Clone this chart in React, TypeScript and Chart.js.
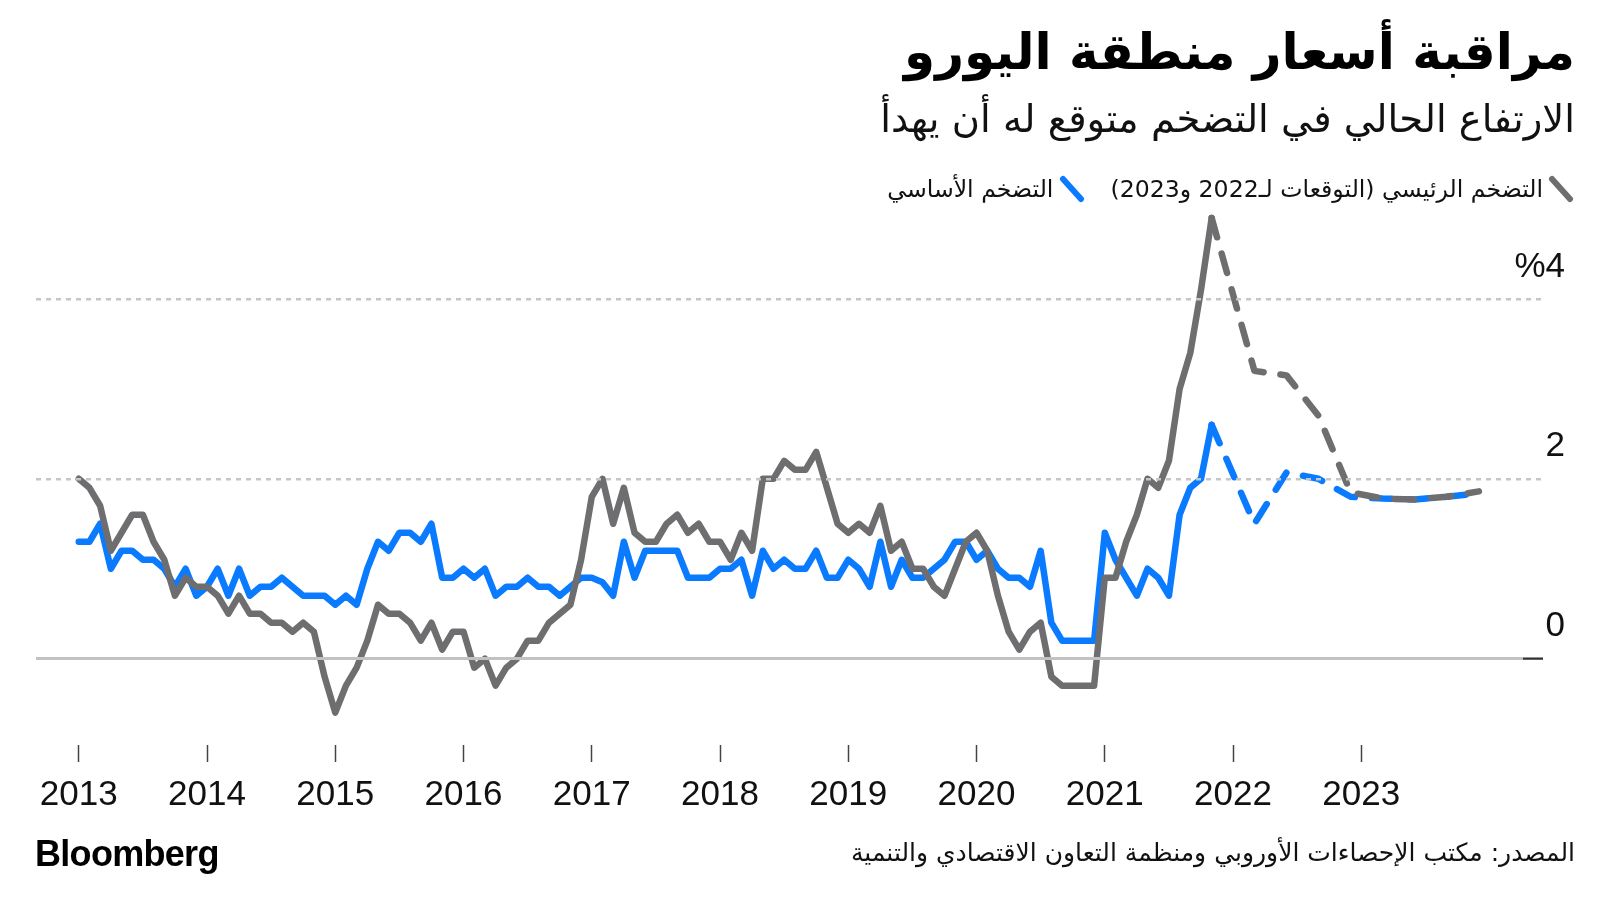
import React, { useEffect, useRef } from "react";
import { Chart, registerables } from "chart.js";

Chart.register(...registerables);

// ---- Data (monthly, index 0 = Jan 2013) ----
const yearLabels = ["2013", "2014", "2015", "2016", "2017", "2018", "2019", "2020", "2021", "2022", "2023"];
const yearTickMonths = [0, 12, 24, 36, 48, 60, 72, 84, 96, 108, 120];
const yTickValues = [0, 2, 4];
const yTickLabels = ["0", "2", "%4"];

// Headline inflation, Jan 2013 .. Nov 2021
const headlineActual = [
  2.0, 1.9, 1.7, 1.2, 1.4, 1.6, 1.6, 1.3, 1.1, 0.7, 0.9, 0.8,
  0.8, 0.7, 0.5, 0.7, 0.5, 0.5, 0.4, 0.4, 0.3, 0.4, 0.3, -0.2,
  -0.6, -0.3, -0.1, 0.2, 0.6, 0.5, 0.5, 0.4, 0.2, 0.4, 0.1, 0.3,
  0.3, -0.1, 0.0, -0.3, -0.1, 0.0, 0.2, 0.2, 0.4, 0.5, 0.6, 1.1,
  1.8, 2.0, 1.5, 1.9, 1.4, 1.3, 1.3, 1.5, 1.6, 1.4, 1.5, 1.3,
  1.3, 1.1, 1.4, 1.2, 2.0, 2.0, 2.2, 2.1, 2.1, 2.3, 1.9, 1.5,
  1.4, 1.5, 1.4, 1.7, 1.2, 1.3, 1.0, 1.0, 0.8, 0.7, 1.0, 1.3,
  1.4, 1.2, 0.7, 0.3, 0.1, 0.3, 0.4, -0.2, -0.3, -0.3, -0.3, -0.3,
  0.9, 0.9, 1.3, 1.6, 2.0, 1.9, 2.2, 3.0, 3.4, 4.1, 4.9,
];

// Core inflation, Jan 2013 .. Nov 2021
const coreActual = [
  1.3, 1.3, 1.5, 1.0, 1.2, 1.2, 1.1, 1.1, 1.0, 0.8, 1.0, 0.7,
  0.8, 1.0, 0.7, 1.0, 0.7, 0.8, 0.8, 0.9, 0.8, 0.7, 0.7, 0.7,
  0.6, 0.7, 0.6, 1.0, 1.3, 1.2, 1.4, 1.4, 1.3, 1.5, 0.9, 0.9,
  1.0, 0.9, 1.0, 0.7, 0.8, 0.8, 0.9, 0.8, 0.8, 0.7, 0.8, 0.9,
  0.9, 0.85, 0.7, 1.3, 0.9, 1.2, 1.2, 1.2, 1.2, 0.9, 0.9, 0.9,
  1.0, 1.0, 1.1, 0.7, 1.2, 1.0, 1.1, 1.0, 1.0, 1.2, 0.9, 0.9,
  1.1, 1.0, 0.8, 1.3, 0.8, 1.1, 0.9, 0.9, 1.0, 1.1, 1.3, 1.3,
  1.1, 1.2, 1.0, 0.9, 0.9, 0.8, 1.2, 0.4, 0.2, 0.2, 0.2, 0.2,
  1.4, 1.1, 0.9, 0.7, 1.0, 0.9, 0.7, 1.6, 1.9, 2.0, 2.6,
];

// Forecast points (month index) for 2022 and 2023
const forecastMonths = [106, 110, 113, 116, 119, 122, 125, 128, 131];
const headlineForecast = [4.9, 3.2, 3.15, 2.7, 1.85, 1.78, 1.77, 1.8, 1.86];
const coreForecast = [2.6, 1.5, 2.07, 2.0, 1.8, 1.78, 1.77, 1.8, 1.84];

const X_MIN = -4;
const X_MAX = 137;
const Y_MIN = -0.96;
const Y_MAX = 5;

const GRAY = "#6e6e70";
const BLUE = "#0a7aff";
const LINE_W = 6.5;

const toPoints = (vals: number[], months?: number[]) =>
  vals.map((v, i) => ({ x: months ? months[i] : i, y: v }));

const zeroTickPlugin = {
  id: "zeroTick",
  afterDraw(chart: any) {
    const { ctx, chartArea, scales } = chart;
    const y = scales.y.getPixelForValue(0);
    ctx.save();
    ctx.strokeStyle = "#333333";
    ctx.lineWidth = 2;
    ctx.beginPath();
    ctx.moveTo(chartArea.right - 20, y);
    ctx.lineTo(chartArea.right, y);
    ctx.stroke();
    ctx.restore();
  },
};

const ARABIC = '"DejaVu Sans", sans-serif';
const LATIN = '"Liberation Sans", Arial, sans-serif';

function Slash({ color }: { color: string }) {
  return (
    <svg width="28" height="28" viewBox="0 0 28 28" style={{ display: "block" }}>
      <line x1="5" y1="4" x2="23" y2="24" stroke={color} strokeWidth="6" strokeLinecap="round" />
    </svg>
  );
}

const lineStyle = (color: string, dashed: boolean) => ({
  borderColor: color,
  borderWidth: LINE_W,
  pointRadius: 0,
  borderDash: dashed ? [20, 17] : [],
  borderJoinStyle: "round",
  borderCapStyle: "round",
  tension: 0,
  clip: false,
});

export default function App() {
  const ref = useRef<HTMLCanvasElement>(null);

  useEffect(() => {
    if (!ref.current) return;
    const chart = new Chart(ref.current, {
      type: "line",
      data: {
        datasets: [
          { data: toPoints(headlineActual), ...lineStyle(GRAY, false) },
          { data: toPoints(headlineForecast, forecastMonths), ...lineStyle(GRAY, true) },
          { data: toPoints(coreActual), ...lineStyle(BLUE, false) },
          { data: toPoints(coreForecast, forecastMonths), ...lineStyle(BLUE, true) },
        ] as any,
      },
      options: {
        responsive: false,
        animation: false,
        devicePixelRatio: 1,
        layout: { padding: { left: 36, right: 35, top: 209, bottom: 85 } },
        plugins: { legend: { display: false }, tooltip: { enabled: false } },
        scales: {
          x: {
            type: "linear",
            min: X_MIN,
            max: X_MAX,
            afterBuildTicks: (scale: any) => {
              scale.ticks = yearTickMonths.map((v) => ({ value: v }));
            },
            afterFit: (scale: any) => {
              scale.height = 70;
            },
            ticks: {
              autoSkip: false,
              maxRotation: 0,
              padding: 12,
              color: "#111",
              font: { family: LATIN, size: 35 },
              callback: (v: any) => {
                const i = yearTickMonths.indexOf(Number(v));
                return i >= 0 ? yearLabels[i] : "";
              },
            },
            grid: {
              drawOnChartArea: false,
              drawTicks: true,
              tickLength: 17,
              tickColor: "#444",
              tickWidth: 1.5,
            },
            border: { display: false },
          },
          y: {
            type: "linear",
            position: "right",
            min: Y_MIN,
            max: Y_MAX,
            afterBuildTicks: (scale: any) => {
              scale.ticks = yTickValues.map((v) => ({ value: v }));
            },
            afterFit: (scale: any) => {
              scale.width = 22;
            },
            ticks: {
              mirror: true,
              crossAlign: "near",
              padding: 22,
              labelOffset: -32,
              color: "#111",
              font: { family: LATIN, size: 35 },
              callback: (v: any) => {
                const i = yTickValues.indexOf(Number(v));
                return i >= 0 ? yTickLabels[i] : "";
              },
            },
            grid: {
              z: 1,
              drawTicks: false,
              color: (ctx: any) => (ctx.tick && ctx.tick.value === 0 ? "#c2c2c2" : "#c6c6c6"),
              lineWidth: (ctx: any) => (ctx.tick && ctx.tick.value === 0 ? 3 : 2.5),
            },
            border: {
              display: false,
              dash: (ctx: any) => (ctx.tick && ctx.tick.value !== 0 ? [5, 5] : []),
            },
          },
        },
      } as any,
      plugins: [zeroTickPlugin],
    });
    return () => chart.destroy();
  }, []);

  return (
    <div style={{ position: "absolute", left: 0, top: 0, width: 1600, height: 900, background: "#fff", overflow: "hidden" }}>
      <canvas ref={ref} width={1600} height={900} style={{ position: "absolute", left: 0, top: 0 }} />
      <div
        dir="rtl"
        style={{ position: "absolute", right: 25, top: 22, fontFamily: ARABIC, fontWeight: 700, fontSize: 50, lineHeight: 1.2, whiteSpace: "nowrap", color: "#000" }}
      >
        مراقبة أسعار منطقة اليورو
      </div>
      <div
        dir="rtl"
        style={{ position: "absolute", right: 25, top: 96, fontFamily: ARABIC, fontSize: 38.5, lineHeight: 1.2, whiteSpace: "nowrap", color: "#111" }}
      >
        الارتفاع الحالي في التضخم متوقع له أن يهدأ
      </div>
      <div
        dir="rtl"
        style={{ position: "absolute", right: 25, top: 175, display: "flex", alignItems: "center", fontFamily: ARABIC, fontSize: 23.6, lineHeight: 1.2, whiteSpace: "nowrap", color: "#111" }}
      >
        <Slash color={GRAY} />
        <span style={{ marginRight: 4 }}>التضخم الرئيسي (التوقعات لـ2022 و2023)</span>
        <span style={{ marginRight: 24 }}><Slash color={BLUE} /></span>
        <span style={{ marginRight: 5 }}>التضخم الأساسي</span>
      </div>
      <div
        style={{ position: "absolute", left: 35, top: 832, fontFamily: LATIN, fontWeight: 700, fontSize: 36, letterSpacing: -0.7, lineHeight: 1.2, color: "#000" }}
      >
        Bloomberg
      </div>
      <div
        dir="rtl"
        style={{ position: "absolute", right: 25, top: 838, fontFamily: ARABIC, fontSize: 25, lineHeight: 1.2, whiteSpace: "nowrap", color: "#111" }}
      >
        المصدر: مكتب الإحصاءات الأوروبي ومنظمة التعاون الاقتصادي والتنمية
      </div>
    </div>
  );
}
